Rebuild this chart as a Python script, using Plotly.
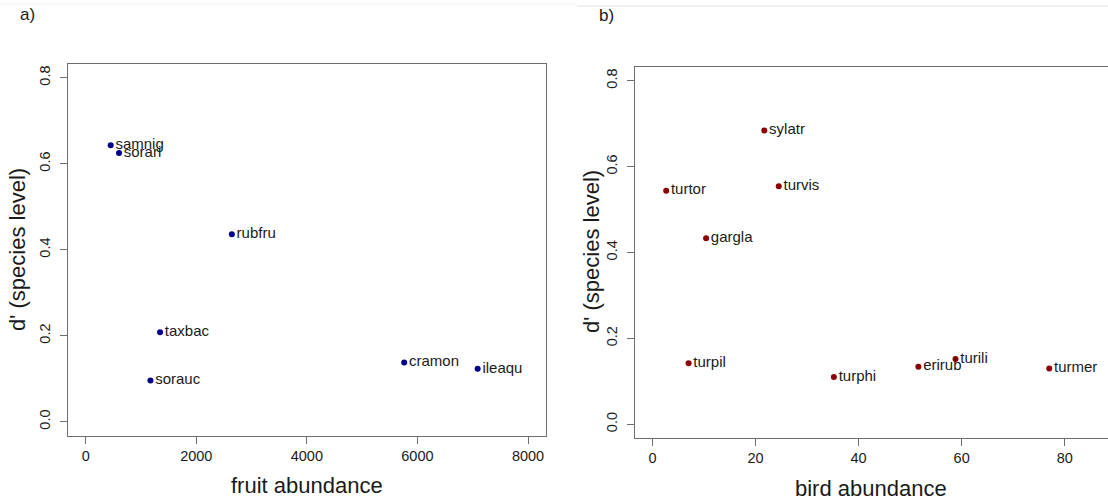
import plotly.graph_objects as go

# ---- data: panel a (plants) ----
fruit_species = ["samnig", "sorari", "rubfru", "taxbac", "sorauc", "cramon", "ileaqu"]
fruit_abundance = [452, 603, 2643, 1345, 1171, 5761, 7089]
fruit_dprime = [0.643, 0.625, 0.436, 0.208, 0.096, 0.138, 0.123]

# ---- data: panel b (birds) ----
bird_species = ["sylatr", "turtor", "turvis", "gargla", "turpil", "turphi", "erirub", "turili", "turmer"]
bird_abundance = [21.7, 2.65, 24.5, 10.4, 7.0, 35.2, 51.6, 58.8, 77.0]
bird_dprime = [0.684, 0.544, 0.554, 0.433, 0.142, 0.110, 0.134, 0.152, 0.130]

y_ticks = [0.0, 0.2, 0.4, 0.6, 0.8]
y_ticklabels = ["0.0", "0.2", "0.4", "0.6", "0.8"]
xa_ticks = [0, 2000, 4000, 6000, 8000]
xb_ticks = [0, 20, 40, 60, 80]

W, H = 1108, 502
FONT = "Liberation Sans, Arial, sans-serif"
TXT = "#1a1a1a"
LINE = "#6e6e6e"

def px_x(p):
    return p / W

def px_y(p):
    return 1 - p / H

fig = go.Figure()

fig.add_trace(go.Scatter(
    x=fruit_abundance, y=fruit_dprime, text=fruit_species,
    mode="markers+text", textposition="middle right",
    marker=dict(size=6, color="#00008B"),
    textfont=dict(family=FONT, size=15, color=TXT),
    xaxis="x", yaxis="y", showlegend=False, cliponaxis=False,
))
fig.add_trace(go.Scatter(
    x=bird_abundance, y=bird_dprime, text=bird_species,
    mode="markers+text", textposition="middle right",
    marker=dict(size=6, color="#8B0000"),
    textfont=dict(family=FONT, size=15, color=TXT),
    xaxis="x2", yaxis="y2", showlegend=False, cliponaxis=False,
))

axis_common = dict(
    showgrid=False, zeroline=False, showline=True, linecolor=LINE, linewidth=1,
    ticks="outside", ticklen=7, tickcolor=LINE, tickwidth=1,
    tickfont=dict(family=FONT, size=14.5, color=TXT),
)

fig.update_layout(
    width=W, height=H,
    margin=dict(l=0, r=0, t=0, b=0),
    paper_bgcolor="white", plot_bgcolor="white",
    xaxis=dict(domain=[px_x(68), px_x(545.7)], range=[-320, 8320],
               tickvals=xa_ticks, mirror=True, anchor="y", **axis_common),
    yaxis=dict(domain=[px_y(435.5), px_y(64)], range=[-0.032, 0.832],
               tickvals=y_ticks, ticktext=y_ticklabels, tickangle=-90,
               ticklabelstandoff=4,
               mirror=True, anchor="x", **axis_common),
    xaxis2=dict(domain=[px_x(635), 1.0], range=[-3.4, 88.4],
                tickvals=xb_ticks, mirror=True, anchor="y2", **axis_common),
    yaxis2=dict(domain=[px_y(438), px_y(67)], range=[-0.032, 0.832],
                tickvals=y_ticks, ticktext=y_ticklabels, tickangle=-90,
                ticklabelstandoff=4,
                anchor="x2", **axis_common),
)

title_font = dict(family=FONT, size=22, color=TXT)
ann = [
    dict(text="a)", x=px_x(27), y=px_y(15), font=dict(family=FONT, size=17, color=TXT)),
    dict(text="b)", x=px_x(606), y=px_y(16), font=dict(family=FONT, size=17, color=TXT)),
    dict(text="fruit abundance", x=px_x(307), y=px_y(485), font=title_font),
    dict(text="bird abundance", x=px_x(871), y=px_y(488), font=title_font),
    dict(text="d' (species level)", x=px_x(17), y=px_y(250), font=title_font, textangle=-90),
    dict(text="d' (species level)", x=px_x(591), y=px_y(252), font=title_font, textangle=-90),
]
for a in ann:
    fig.add_annotation(xref="paper", yref="paper", xanchor="center", yanchor="middle",
                       showarrow=False, **a)

fig.add_shape(type="line", xref="paper", yref="paper", x0=0, x1=px_x(577),
              y0=px_y(4), y1=px_y(4), line=dict(color="#f3f3f3", width=1))
fig.add_shape(type="line", xref="paper", yref="paper", x0=px_x(577), x1=1,
              y0=px_y(6), y1=px_y(6), line=dict(color="#e2e2e2", width=1))

fig.write_html(
    "out.html",
    config={"displayModeBar": False},
    post_script="document.body.style.margin='0';document.body.style.overflow='hidden';",
)
